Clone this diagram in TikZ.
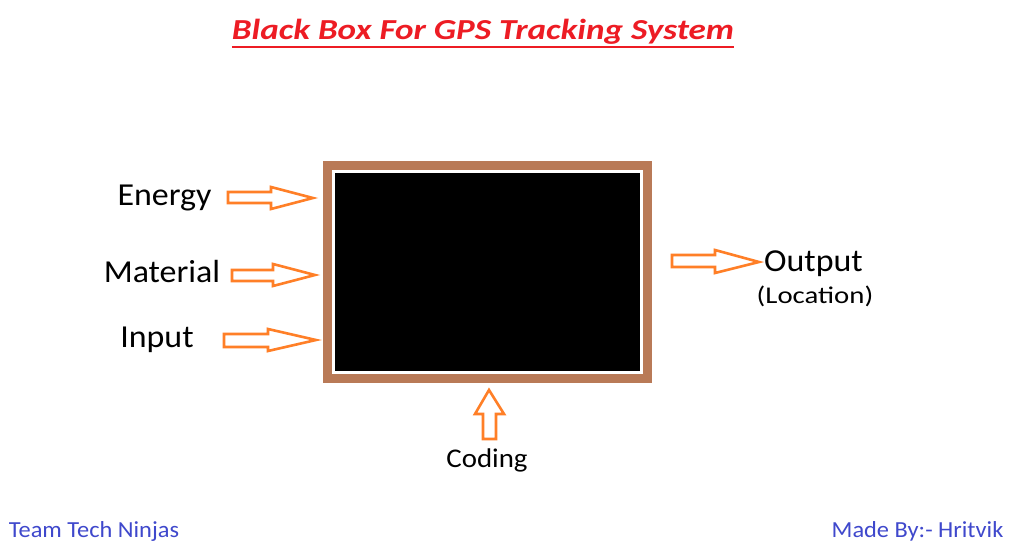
\documentclass[tikz,border=0pt]{standalone}
\usepackage{fontspec}
\setmainfont{Carlito}
\definecolor{arroworange}{HTML}{FF7F27}
\definecolor{framebrown}{HTML}{B97A57}
\definecolor{titlered}{HTML}{ED1C24}
\definecolor{signblue}{HTML}{3F48CC}
\begin{document}
\begin{tikzpicture}[x=1pt,y=-1pt,
  blockarrow/.style={draw=arroworange, line width=2.6pt, line join=miter, fill=white},
  biglabel/.style={anchor=base, inner sep=0pt, font=\fontsize{32}{38}\selectfont\addfontfeature{FakeStretch=1.06}},
  smalllabel/.style={anchor=base, inner sep=0pt, font=\fontsize{24}{29}\selectfont\addfontfeature{FakeStretch=1.2}},
  codinglabel/.style={anchor=base, inner sep=0pt, font=\fontsize{27}{32}\selectfont\addfontfeature{FakeStretch=1.07}},
  signlabel/.style={anchor=base, inner sep=0pt, text=signblue, font=\fontsize{23}{28}\selectfont\addfontfeature{FakeStretch=1.06}},
  titlelabel/.style={anchor=base, inner sep=0pt, text=titlered, font=\fontsize{29}{34}\selectfont\bfseries\itshape\addfontfeature{FakeStretch=1.21}},
  blackbox/.style={fill=black, draw=none, inner sep=0pt, minimum width=305pt, minimum height=198pt},
  boxframe/.style={draw=framebrown, line width=8.5pt}
]
\useasboundingbox[fill=white] (0,0) rectangle (1014,549);

% title
\node[titlelabel] (title) at (483,39) {Black Box For GPS Tracking System};
\draw[titlered, line width=2pt] ([yshift=-8pt]title.base west) -- ([yshift=-8pt]title.base east);

% black box with frame
\node[blackbox] (bb) at (487.5,272) {};
\draw[boxframe] ([shift={(-7.5pt,7.5pt)}]bb.north west) rectangle ([shift={(7.5pt,-7.5pt)}]bb.south east);

% labels
\node[biglabel] (energy) at (164.5,205) {Energy};
\node[biglabel] (material) at (162,282) {Material};
\node[biglabel] (input) at (157,347) {Input};
\node[biglabel] (output) at (813.5,271) {Output};
\node[smalllabel] (location) at (815,303) {(Location)};
\node[codinglabel] (coding) at (487,467) {Coding};
\node[signlabel] (team) at (94,537) {Team Tech Ninjas};
\node[signlabel] (made) at (917.5,537) {Made By:- Hritvik};

% block arrows
\draw[blockarrow] (228,192) -- (271,192) -- (271,187) -- (313,198) -- (271,209) -- (271,203) -- (228,203) -- cycle;
\draw[blockarrow] (232,270) -- (273,270) -- (273,264) -- (315,275) -- (273,286) -- (273,281) -- (232,281) -- cycle;
\draw[blockarrow] (224,334) -- (268,334) -- (268,329) -- (316,340) -- (268,351) -- (268,347) -- (224,347) -- cycle;
\draw[blockarrow] (672,255) -- (715,255) -- (715,250) -- (759,262) -- (715,273) -- (715,267) -- (672,267) -- cycle;
\draw[blockarrow] (483,439) -- (483,414) -- (475,414) -- (489,390) -- (504,414) -- (496,414) -- (496,439) -- cycle;
\end{tikzpicture}
\end{document}
